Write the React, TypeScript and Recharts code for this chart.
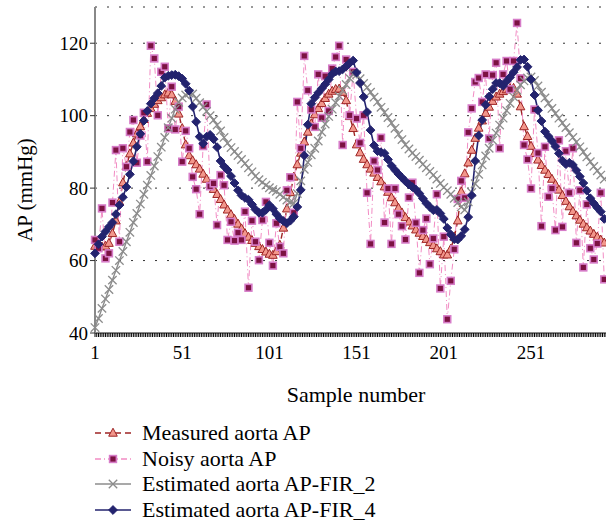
import { CartesianGrid, Line, LineChart, XAxis, YAxis } from 'recharts';

// samples 1, 3, 5, ... 293 (every second sample of the record)
const samples = Array.from({ length: 147 }, (_, i) => 1 + i * 2);

const measured = [
  64.0, 64.5, 63.8, 64.0, 64.8, 67.5, 71.0, 76.2, 81.5, 86.0,
  89.5, 92.5, 95.0, 97.0, 99.0, 100.7, 102.0, 103.2, 104.2, 105.0,
  105.8, 106.3, 105.8, 104.0, 100.5, 96.5, 92.0, 89.0, 87.6, 86.5,
  85.3, 83.9, 82.5, 81.0, 79.7, 78.3, 76.9, 75.4, 74.0, 72.7,
  71.4, 70.1, 68.8, 67.5, 66.5, 65.6, 64.8, 63.9, 63.1, 62.4,
  61.8, 61.5, 62.5, 64.3, 69.0, 74.3, 78.8, 83.1, 86.5, 89.7,
  92.8, 95.5, 97.8, 100.3, 102.0, 103.4, 104.8, 106.0, 106.8, 107.3,
  107.4, 106.5, 104.2, 99.8, 96.5, 92.0, 89.8, 88.0, 86.5, 85.3,
  84.2, 83.0, 81.8, 80.4, 78.9, 77.4, 76.0, 74.5, 73.2, 71.9,
  70.7, 69.6, 68.5, 67.6, 66.7, 65.9, 65.0, 64.2, 63.3, 62.5,
  61.6, 61.6, 63.2, 66.5, 71.0, 79.0, 84.0, 87.0, 90.5, 93.8,
  96.6, 98.6, 100.7, 102.4, 104.0, 105.2, 106.0, 106.7, 107.2, 107.5,
  107.6, 106.0, 102.5, 97.0, 94.3, 91.6, 89.6, 87.8, 86.3, 85.0,
  83.8, 82.5, 81.0, 79.5, 78.0, 76.4, 74.9, 73.6, 72.4, 71.2,
  70.1, 69.1, 68.2, 67.3, 66.5, 65.7, 64.9,
];

const noisy = [
  65.7, 63.4, 74.4, 60.6, 62.0, 76.0, 90.5, 65.2, 91.0, 85.9,
  95.5, 98.8, 87.0, 94.5, 100.8, 87.3, 119.3, 115.8, 100.1, 112.1,
  113.5, 96.5, 108.0, 96.2, 102.5, 87.3, 95.8, 91.0, 83.1, 79.7,
  72.8, 91.6, 103.1, 80.5, 81.3, 69.8, 83.6, 80.8, 65.7, 70.7,
  65.5, 67.7, 65.7, 73.5, 52.5, 71.0, 65.2, 60.1, 71.2, 76.2,
  64.9, 58.6, 70.3, 63.8, 62.0, 79.4, 83.0, 73.2, 103.8, 91.0,
  116.5, 107.0, 101.7, 96.9, 111.4, 99.4, 110.9, 101.3, 113.0, 116.2,
  119.3, 91.9, 115.5, 100.1, 112.1, 99.2, 92.5, 100.1, 78.7, 64.6,
  87.5, 85.0, 93.9, 70.5, 79.9, 64.6, 79.9, 72.8, 69.5, 65.8,
  77.4, 81.5, 70.4, 56.6, 68.4, 71.6, 59.0, 66.1, 78.3, 52.3,
  66.6, 43.8, 54.4, 63.1, 77.0, 82.0, 77.3, 95.4, 102.0, 109.3,
  110.4, 103.8, 111.4, 93.7, 111.2, 114.6, 91.0, 111.4, 115.1, 107.3,
  115.1, 125.6, 110.3, 91.9, 87.9, 79.9, 101.7, 89.7, 69.5, 91.4,
  77.6, 79.9, 68.4, 93.2, 69.3, 90.2, 78.7, 91.0, 64.9, 79.4,
  58.1, 75.5, 63.4, 60.3, 64.7, 78.7, 54.8,
];

const firTwo = [
  41.5, 44.0, 46.8, 49.4, 52.0, 54.6, 57.3, 60.0, 62.5, 65.2,
  67.8, 70.5, 73.0, 75.6, 78.3, 80.8, 83.5, 86.1, 88.7, 91.3,
  94.0, 96.7, 99.3, 101.8, 103.7, 104.9, 105.7, 106.2, 106.0, 104.8,
  103.6, 102.4, 101.2, 100.0, 98.8, 97.4, 95.8, 94.0, 92.4, 91.2,
  90.1, 89.0, 87.9, 86.8, 85.6, 84.5, 83.3, 82.3, 81.6, 80.8,
  80.1, 79.6, 79.1, 78.3, 77.5, 76.7, 76.1, 75.8, 78.5, 82.0,
  85.2, 87.1, 89.2, 91.0, 93.0, 95.5, 97.7, 99.8, 101.8, 103.6,
  105.4, 107.0, 108.6, 110.3, 111.5, 111.3, 110.2, 108.9, 107.8, 106.5,
  105.1, 103.8, 102.3, 100.9, 99.5, 98.0, 96.5, 94.9, 93.4, 92.0,
  90.8, 89.7, 88.7, 87.7, 86.6, 85.6, 84.6, 83.6, 82.5, 81.3,
  80.2, 79.3, 78.3, 77.2, 76.0, 74.8, 74.0, 76.2, 78.8, 81.2,
  83.8, 86.4, 88.9, 91.0, 93.2, 95.2, 97.4, 99.3, 101.4, 103.4,
  105.2, 107.0, 108.5, 109.6, 110.4, 110.7, 109.7, 108.2, 106.5, 104.9,
  103.4, 102.0, 100.6, 99.3, 98.0, 96.7, 95.3, 94.0, 92.7, 91.4,
  90.0, 88.6, 87.3, 86.0, 84.8, 83.6, 82.5,
];

const firFour = [
  62.0, 64.5, 66.6, 68.0, 69.3, 70.5, 72.8, 75.3, 77.5, 80.3,
  83.8, 87.4, 91.4, 95.0, 98.6, 101.3, 103.3, 104.8, 106.2, 108.2,
  110.5, 111.0, 111.2, 111.3, 110.9, 110.2, 108.8, 106.9, 102.5, 98.3,
  94.2, 92.3, 94.2, 94.7, 93.5, 91.3, 87.5, 86.0, 85.0, 83.3,
  81.4, 79.4, 78.0, 77.3, 76.8, 75.5, 74.1, 73.2, 73.2, 74.0,
  75.3, 74.3, 72.8, 71.6, 70.9, 70.3, 71.0, 72.1, 74.8, 79.5,
  89.0, 97.5, 103.3, 105.0, 106.3, 107.5, 108.7, 110.0, 111.5, 112.2,
  112.3, 112.8, 113.6, 114.5, 115.2, 111.9, 109.0, 105.2, 101.0, 96.0,
  91.8, 90.2, 89.9, 89.6, 87.9, 86.2, 85.0, 83.9, 82.9, 81.9,
  81.0, 80.3, 79.6, 78.5, 77.1, 75.8, 74.8, 73.9, 74.0, 73.0,
  71.5, 69.0, 67.2, 65.9, 65.8, 66.8, 68.6, 72.0, 78.0, 87.5,
  94.5, 98.8, 103.0, 105.3, 107.3, 109.0, 109.0, 108.2, 109.5, 110.6,
  112.0, 113.4, 115.4, 115.5, 113.5, 110.0, 105.7, 101.5, 98.5, 95.6,
  94.3, 93.0, 91.5, 89.6, 87.6, 86.6, 87.0, 86.4, 84.9, 83.2,
  81.4, 79.3, 77.2, 75.8, 74.6, 73.5, 71.5,
];

const xLabels = [1, 51, 101, 151, 201, 251];
const xTicks = Array.from({ length: 294 }, (_, i) => i + 1);
const yTicks = [40, 60, 80, 100, 120];

const rows = samples.map((s, i) => ({
  s,
  measured: measured[i],
  noisy: noisy[i],
  firTwo: firTwo[i],
  firFour: firFour[i],
}));

const FONT = '"Liberation Serif", "Times New Roman", serif';
const RED = '#9E2424';
const PINK = '#F28CC4';
const GREY = '#8C8C8C';
const NAVY = '#23236E';

function triShape(cx: number, cy: number, key?: string) {
  return (
    <path
      key={key}
      d={`M${cx},${cy - 4.8}L${cx + 4.3},${cy + 3.2}L${cx - 4.3},${cy + 3.2}Z`}
      fill="#F2978C"
      stroke={RED}
      strokeWidth={1}
    />
  );
}

function squareShape(cx: number, cy: number, key?: string) {
  return (
    <rect key={key} x={cx - 3.4} y={cy - 3.4} width={6.8} height={6.8} fill="#7C1242" stroke="#D67CC8" strokeWidth={1.6} />
  );
}

function crossShape(cx: number, cy: number, key?: string) {
  return (
    <g key={key} stroke={GREY} strokeWidth={1.3}>
      <line x1={cx - 4.2} y1={cy - 4.2} x2={cx + 4.2} y2={cy + 4.2} />
      <line x1={cx - 4.2} y1={cy + 4.2} x2={cx + 4.2} y2={cy - 4.2} />
    </g>
  );
}

function diamondShape(cx: number, cy: number, key?: string) {
  return (
    <path key={key} d={`M${cx},${cy - 4.4}L${cx + 4.4},${cy}L${cx},${cy + 4.4}L${cx - 4.4},${cy}Z`} fill={NAVY} stroke={NAVY} />
  );
}

const makeDot = (shape: (cx: number, cy: number, key?: string) => JSX.Element, tag: string) => (props: any) => {
  const { cx, cy, index } = props;
  if (cx == null || cy == null) return <g key={`${tag}${index}`} />;
  return shape(cx, cy, `${tag}${index}`);
};

function XTick(props: any) {
  const { x, y, payload } = props;
  if (!xLabels.includes(payload.value)) return <g />;
  return (
    <text x={x} y={y} dy="0.71em" textAnchor="middle" fill="#000" style={{ fontFamily: FONT, fontSize: 19 }}>
      {payload.value}
    </text>
  );
}

function YTick(props: any) {
  const { x, y, payload } = props;
  return (
    <text x={x} y={y} dy="0.35em" textAnchor="end" fill="#000" style={{ fontFamily: FONT, fontSize: 19 }}>
      {payload.value}
    </text>
  );
}

const legendItems = [
  { label: 'Measured aorta AP', color: RED, dash: '6 4', shape: triShape },
  { label: 'Noisy aorta AP', color: PINK, dash: '6 3 1 3', shape: squareShape },
  { label: 'Estimated aorta AP-FIR_2', color: GREY, dash: undefined, shape: crossShape },
  { label: 'Estimated aorta AP-FIR_4', color: NAVY, dash: undefined, shape: diamondShape },
];

export default function App() {
  return (
    <div
      style={{
        position: 'absolute',
        left: 0,
        top: 0,
        width: 606,
        height: 523,
        background: '#fff',
        fontFamily: FONT,
        color: '#000',
        overflow: 'hidden',
      }}
    >
      <LineChart width={606} height={410} data={rows} margin={{ top: 7, right: 0, bottom: 0, left: 0 }}>
        <CartesianGrid vertical={false} stroke="#333" strokeDasharray="2 10" />
        <XAxis
          dataKey="s"
          type="number"
          domain={[1, 294]}
          ticks={xTicks}
          interval={0}
          height={77}
          tickSize={4}
          tickMargin={9}
          tickLine={{ stroke: '#000' }}
          axisLine={{ stroke: '#888', strokeWidth: 2 }}
          tick={<XTick />}
        />
        <YAxis
          domain={[40, 130]}
          ticks={yTicks}
          width={95}
          tickSize={5}
          tickMargin={2}
          tickLine={{ stroke: '#333' }}
          axisLine={{ stroke: '#888', strokeWidth: 2 }}
          tick={<YTick />}
        />
        <Line
          dataKey="measured"
          stroke={RED}
          strokeWidth={1.4}
          strokeDasharray="6 4"
          dot={makeDot(triShape, 'm')}
          isAnimationActive={false}
        />
        <Line
          dataKey="noisy"
          stroke={PINK}
          strokeWidth={1}
          strokeDasharray="6 3 1 3"
          dot={makeDot(squareShape, 'n')}
          isAnimationActive={false}
        />
        <Line dataKey="firTwo" stroke={GREY} strokeWidth={1.4} dot={makeDot(crossShape, 'g')} isAnimationActive={false} />
        <Line dataKey="firFour" stroke={NAVY} strokeWidth={1.6} dot={makeDot(diamondShape, 'b')} isAnimationActive={false} />
      </LineChart>

      <div
        style={{
          position: 'absolute',
          left: 25,
          top: 190,
          transform: 'translate(-50%, -50%) rotate(-90deg)',
          fontSize: 21,
          whiteSpace: 'nowrap',
        }}
      >
        AP (mmHg)
      </div>
      <div
        style={{
          position: 'absolute',
          left: 356,
          top: 395,
          transform: 'translate(-50%, -50%)',
          fontSize: 22,
          whiteSpace: 'nowrap',
        }}
      >
        Sample number
      </div>

      <div style={{ position: 'absolute', left: 93, top: 420 }}>
        {legendItems.map((item) => (
          <div key={item.label} style={{ display: 'flex', alignItems: 'center', height: 25.7 }}>
            <svg width={40} height={20} style={{ marginRight: 9 }}>
              <line x1={2} y1={10} x2={38} y2={10} stroke={item.color} strokeWidth={1.5} strokeDasharray={item.dash} />
              {item.shape(20, 10)}
            </svg>
            <span style={{ fontSize: 22, whiteSpace: 'nowrap' }}>{item.label}</span>
          </div>
        ))}
      </div>
    </div>
  );
}
